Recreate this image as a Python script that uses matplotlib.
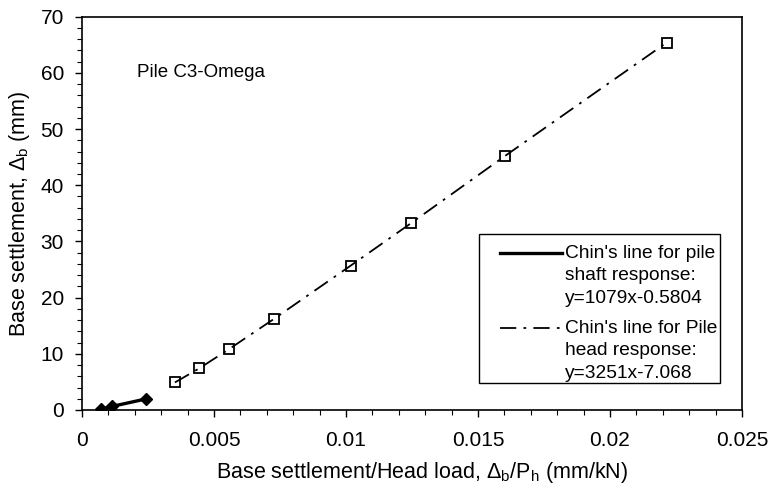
import matplotlib
matplotlib.use('Agg')
import matplotlib.pyplot as plt
from matplotlib.lines import Line2D
from matplotlib.patches import Rectangle
from matplotlib.ticker import MultipleLocator

plt.rcParams['font.family'] = ['Liberation Sans', 'DejaVu Sans']
plt.rcParams['mathtext.fontset'] = 'custom'
plt.rcParams['mathtext.rm'] = 'Liberation Sans'
plt.rcParams['mathtext.it'] = 'Liberation Sans:italic'

# pile head response (open squares)
x_head = [0.00352, 0.00444, 0.00556, 0.00727, 0.01018, 0.01245, 0.01602, 0.02215]
y_head = [4.9, 7.4, 10.8, 16.2, 25.7, 33.2, 45.2, 65.4]
# pile shaft response (filled diamonds)
x_shaft = [0.00071, 0.00115, 0.00241]
y_shaft = [0.15, 0.65, 1.95]

lbl_shaft = ["Chin's line for pile", "shaft response:", "y=1079x-0.5804"]
lbl_head = ["Chin's line for Pile", "head response:", "y=3251x-7.068"]

dashdot = (0, (9, 4, 1.5, 4))

fig = plt.figure(figsize=(7.72, 4.91), dpi=100)
ax = fig.add_axes([0.1062, 0.165, 0.8549, 0.801])

ax.plot(x_head, y_head, color='black', lw=1.3, linestyle=dashdot,
        marker='s', ms=7.5, mfc='none', mec='black', mew=1.3)
ax.plot(x_shaft, y_shaft, color='black', lw=2.4,
        marker='D', ms=6.5, mfc='black', mec='black')

ax.set_xlim(0, 0.025)
ax.set_ylim(0, 70)
ax.xaxis.set_major_locator(MultipleLocator(0.005))
ax.xaxis.set_minor_locator(MultipleLocator(0.001))
ax.yaxis.set_major_locator(MultipleLocator(10))
ax.yaxis.set_minor_locator(MultipleLocator(2))
ax.set_xticks([0, 0.005, 0.01, 0.015, 0.02, 0.025])
ax.set_xticklabels(['0', '0.005', '0.01', '0.015', '0.02', '0.025'])
ax.tick_params(which='major', direction='out', length=5, width=1, labelsize=15)
ax.tick_params(axis='x', which='major', pad=10)
ax.tick_params(axis='y', which='major', pad=8)
ax.tick_params(which='minor', direction='out', length=3.5, width=0.8)
for s in ax.spines.values():
    s.set_linewidth(1.2)

ax.set_xlabel(r'Base settlement/Head load, $\Delta_{\rm b}$/P$_{\rm h}$ (mm/kN)', fontsize=15.5, labelpad=7)
ax.xaxis.label.set_x(0.515)
ax.set_ylabel(r'Base settlement, $\Delta_{\rm b}$ (mm)', fontsize=15.5, labelpad=6)

ax.text(0.083, 0.859, 'Pile C3-Omega', transform=ax.transAxes, fontsize=13.5, va='center', ha='left')

# legend box drawn by hand so handles sit on the first text line
ax.add_patch(Rectangle((0.6015, 0.0687), 0.3655, 0.3788, transform=ax.transAxes,
                       facecolor='white', edgecolor='black', lw=1.0, zorder=5))
ax.add_line(Line2D([0.633, 0.727], [0.398, 0.398], transform=ax.transAxes,
                   color='black', lw=2.4, zorder=6))
ax.add_line(Line2D([0.633, 0.727], [0.208, 0.208], transform=ax.transAxes,
                   color='black', lw=1.3, linestyle=dashdot, zorder=6))
step = 0.057
for i, t in enumerate(lbl_shaft):
    ax.text(0.732, 0.398 - i * step, t, transform=ax.transAxes, fontsize=13.8,
            va='center', ha='left', zorder=7)
for i, t in enumerate(lbl_head):
    ax.text(0.732, 0.208 - i * step, t, transform=ax.transAxes, fontsize=13.8,
            va='center', ha='left', zorder=7)

fig.savefig('out.png', dpi=100)
